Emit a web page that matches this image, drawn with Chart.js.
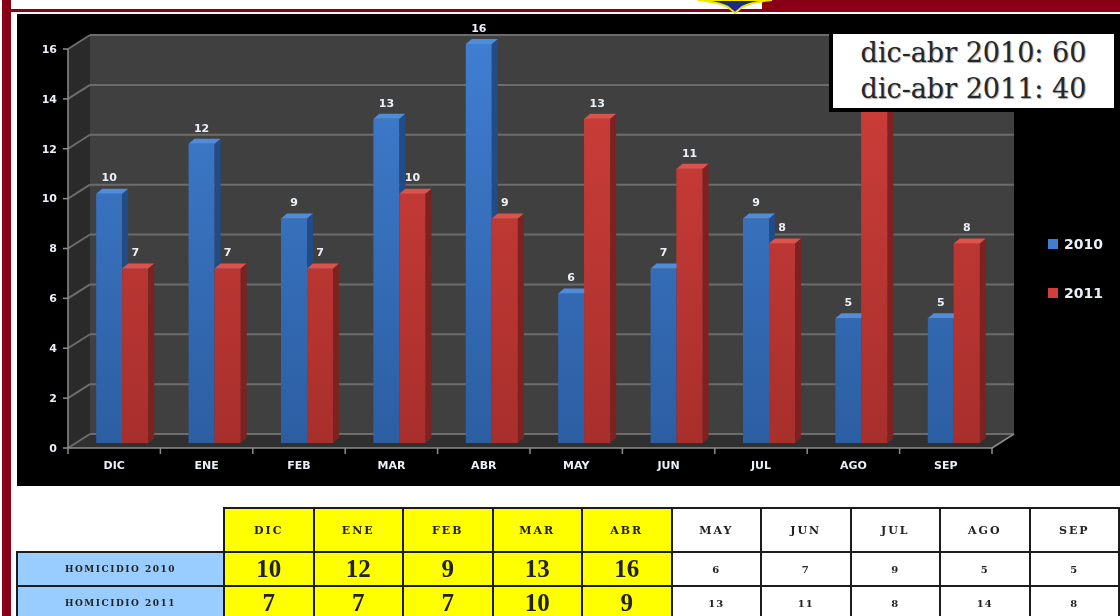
<!DOCTYPE html>
<html>
<head>
<meta charset="utf-8">
<script src="https://cdn.jsdelivr.net/npm/chart.js@4.4.0/dist/chart.umd.min.js"></script>
<style>
  html, body { margin: 0; padding: 0; background: #fff; width: 1120px; height: 616px; overflow: hidden; position: relative; }
  #frameLeft { position: absolute; left: 2px; top: 0; width: 9px; height: 616px; background: #8a0016; }
  #frameTop { position: absolute; left: 2px; top: 9px; width: 1118px; height: 3px; background: #8a0016; }
  #banner { position: absolute; left: 762px; top: 0; width: 358px; height: 12px; background: #8a0016; }
  #emblem { position: absolute; left: 692px; top: 0; }
  #panel { position: absolute; left: 17px; top: 14px; width: 1103px; height: 472px; background: #000; }
  #chart { position: absolute; left: 0; top: 0; }
  #note {
    position: absolute; left: 829px; top: 30px; width: 281px; height: 73px;
    background: #fff; border: 4px solid #000;
    font-family: "DejaVu Serif", serif; font-size: 27px; color: #262626;
    text-align: center; line-height: 36px; padding-top: 1px; box-sizing: content-box;
    text-shadow: 1px 1px 1px rgba(0,0,0,0.35);
  }
  #tbl { position: absolute; left: 16px; top: 507px; border-collapse: collapse; table-layout: fixed; }
  #tbl th, #tbl td { border: 2px solid #1c1c1c; padding: 0; text-align: center; color: #222; overflow: hidden; white-space: nowrap; }
  #tbl th { height: 42px; font: bold 11px "DejaVu Serif", serif; letter-spacing: 2px; }
  #tbl th.blank { border-top: none; border-left: none; background: #fff; }
  #tbl td { height: 32px; }
  #tbl td.rowlab { background: #99ccff; font: bold 9px "DejaVu Serif", serif; letter-spacing: 1.5px; }
  #tbl .hl { background: #ffff00; }
  #tbl td.hl { font: bold 25px "Liberation Serif", serif; }
  #tbl td.plain { background: #fff; font: bold 10px "DejaVu Serif", serif; letter-spacing: 1px; }
</style>
</head>
<body>
<div id="frameLeft"></div>
<div id="frameTop"></div>
<div id="banner"></div>
<svg id="emblem" width="90" height="16" viewBox="0 0 90 16">
  <path d="M6,0 Q26,2 36,7 L43,13 L50,7 Q60,2 80,0 Z" fill="#1a2b8c" stroke="#f2e400" stroke-width="2"/>
</svg>
<div id="panel"></div>
<canvas id="chart" width="1120" height="616"></canvas>
<div id="note"></div>
<table id="tbl"></table>

<script>
// data
const months = ['DIC', 'ENE', 'FEB', 'MAR', 'ABR', 'MAY', 'JUN', 'JUL', 'AGO', 'SEP'];
const homicidios2010 = [10, 12, 9, 13, 16, 6, 7, 9, 5, 5];
const homicidios2011 = [7, 7, 7, 10, 9, 13, 11, 8, 14, 8];
const seriesLabels = ['2010', '2011'];
const rowLabels = ['HOMICIDIO 2010', 'HOMICIDIO 2011'];
const yTicks = [0, 2, 4, 6, 8, 10, 12, 14, 16];
const periodMonths = 5; // dic-abr, highlighted in the table

// 3D look: offsets from the bar plane to the front edge / back wall
const FRONT = { dx: -8, dy: 5 };
const BACK = { dx: 14, dy: -9 };
const DEPTH = { dx: 6, dy: -5 };

const palette = {
    blueTop: '#3f7ed0', blueBottom: '#2c5ea2', blueSide: '#234c86', blueCap: '#4f8ddb',
    redTop: '#d03f3a', redBottom: '#a82f2c', redSide: '#7c2220', redCap: '#dc524c',
    wall: '#404040', sideWall: '#2a2a2a', floor: '#303030',
    grid: '#6c6c6c', axis: '#8c8c8c', text: '#eaeff8'
};
const sideColors = [palette.blueSide, palette.redSide];
const capColors = [palette.blueCap, palette.redCap];

// note box, totals for dic-abr
const sum = arr => arr.slice(0, periodMonths).reduce((a, b) => a + b, 0);
document.getElementById('note').innerHTML =
    'dic-abr 2010: ' + sum(homicidios2010) + '<br>dic-abr 2011: ' + sum(homicidios2011);

// table under the chart
(function buildTable() {
    const tbl = document.getElementById('tbl');
    let html = '<colgroup><col style="width:207px">';
    months.forEach(() => { html += '<col style="width:89.5px">'; });
    html += '</colgroup><tr><th class="blank"></th>';
    months.forEach((m, i) => {
        html += '<th class="' + (i < periodMonths ? 'hl' : '') + '">' + m + '</th>';
    });
    html += '</tr>';
    [homicidios2010, homicidios2011].forEach((row, r) => {
        html += '<tr><td class="rowlab">' + rowLabels[r] + '</td>';
        row.forEach((v, i) => {
            html += '<td class="' + (i < periodMonths ? 'hl' : 'plain') + '">' + v + '</td>';
        });
        html += '</tr>';
    });
    tbl.innerHTML = html;
})();

function gradient(chart, top, bottom) {
    const a = chart.chartArea;
    if (!a) return top;
    const g = chart.ctx.createLinearGradient(0, a.top, 0, a.bottom);
    g.addColorStop(0, top);
    g.addColorStop(1, bottom);
    return g;
}

function poly(ctx, pts, fill) {
    ctx.beginPath();
    ctx.moveTo(pts[0][0], pts[0][1]);
    for (let i = 1; i < pts.length; i++) ctx.lineTo(pts[i][0], pts[i][1]);
    ctx.closePath();
    ctx.fillStyle = fill;
    ctx.fill();
}

function line(ctx, x1, y1, x2, y2) {
    ctx.beginPath();
    ctx.moveTo(x1, y1);
    ctx.lineTo(x2, y2);
    ctx.stroke();
}

function drawDepth(ctx, bar, d) {
    const { x, y, base, width } = bar.getProps(['x', 'y', 'base', 'width'], true);
    const l = x - width / 2, r = x + width / 2;
    poly(ctx, [[r, y], [r + DEPTH.dx, y + DEPTH.dy], [r + DEPTH.dx, base + DEPTH.dy], [r, base]], sideColors[d]);
    poly(ctx, [[l, y], [r, y], [r + DEPTH.dx, y + DEPTH.dy], [l + DEPTH.dx, y + DEPTH.dy]], capColors[d]);
}

const scene3d = {
    id: 'scene3d',
    beforeDatasetsDraw(chart) {
        const { ctx, chartArea: a, scales: { x, y } } = chart;
        const fL = a.left + FRONT.dx, fR = a.right + FRONT.dx;
        const bL = a.left + BACK.dx, bR = a.right + BACK.dx;
        const y0 = y.getPixelForValue(0);
        const yMax = y.getPixelForValue(yTicks[yTicks.length - 1]);
        ctx.save();
        // walls and floor
        ctx.fillStyle = palette.wall;
        ctx.fillRect(bL, yMax + BACK.dy, bR - bL, y0 - yMax);
        poly(ctx, [[fL, y0 + FRONT.dy], [fL, yMax + FRONT.dy], [bL, yMax + BACK.dy], [bL, y0 + BACK.dy]], palette.sideWall);
        poly(ctx, [[fL, y0 + FRONT.dy], [fR, y0 + FRONT.dy], [bR, y0 + BACK.dy], [bL, y0 + BACK.dy]], palette.floor);

        // gridlines + y ticks
        ctx.lineWidth = 2;
        ctx.font = 'bold 11px "DejaVu Sans", sans-serif';
        ctx.textAlign = 'right';
        ctx.textBaseline = 'middle';
        yTicks.forEach(v => {
            const p = y.getPixelForValue(v);
            ctx.strokeStyle = palette.grid;
            line(ctx, fL, p + FRONT.dy, bL, p + BACK.dy);
            line(ctx, bL, p + BACK.dy, bR, p + BACK.dy);
            ctx.strokeStyle = palette.axis;
            ctx.lineWidth = 1.5;
            line(ctx, fL - 5, p + FRONT.dy, fL, p + FRONT.dy);
            ctx.lineWidth = 2;
            ctx.fillStyle = palette.text;
            ctx.fillText(String(v), fL - 11, p + FRONT.dy + 1);
        });

        // front axes
        ctx.strokeStyle = palette.axis;
        ctx.lineWidth = 1.5;
        line(ctx, fL, yMax + FRONT.dy, fL, y0 + FRONT.dy);
        line(ctx, fL, y0 + FRONT.dy, fR, y0 + FRONT.dy);
        line(ctx, fR, y0 + FRONT.dy, bR, y0 + BACK.dy);
        const step = (a.right - a.left) / months.length;
        for (let i = 0; i <= months.length; i++) {
            const tx = fL + step * i;
            line(ctx, tx, y0 + FRONT.dy, tx, y0 + FRONT.dy + 6);
        }

        // category labels
        ctx.textAlign = 'center';
        ctx.fillStyle = palette.text;
        months.forEach((m, i) => {
            ctx.fillText(m, x.getPixelForValue(i) + FRONT.dx, y0 + FRONT.dy + 18);
        });
        ctx.restore();
    },
    afterDatasetsDraw(chart) {
        const ctx = chart.ctx;
        ctx.save();
        // blue depth faces, then repaint the red fronts over them, then red depth faces
        const blue = chart.getDatasetMeta(0).data;
        const red = chart.getDatasetMeta(1).data;
        blue.forEach(bar => drawDepth(ctx, bar, 0));
        red.forEach(bar => { bar.draw(ctx); drawDepth(ctx, bar, 1); });

        ctx.font = 'bold 11px "DejaVu Sans", sans-serif';
        ctx.textAlign = 'center';
        ctx.textBaseline = 'middle';
        ctx.fillStyle = palette.text;
        chart.data.datasets.forEach((ds, d) => {
            chart.getDatasetMeta(d).data.forEach((bar, k) => {
                ctx.fillText(String(ds.data[k]), bar.x, bar.y - 15);
            });
        });

        // legend on the right
        const legendY = [244, 293];
        ctx.font = 'bold 14px "DejaVu Sans", sans-serif';
        ctx.textAlign = 'left';
        chart.data.datasets.forEach((ds, d) => {
            ctx.fillStyle = d === 0 ? palette.blueTop : palette.redTop;
            ctx.fillRect(1048, legendY[d] - 5, 10, 10);
            ctx.fillStyle = palette.text;
            ctx.fillText(ds.label, 1064, legendY[d] + 1);
        });
        ctx.restore();
    }
};

new Chart(document.getElementById('chart').getContext('2d'), {
    type: 'bar',
    data: {
        labels: months,
        datasets: [{
            label: seriesLabels[0],
            data: homicidios2010,
            backgroundColor: c => gradient(c.chart, palette.blueTop, palette.blueBottom),
            borderWidth: 0
        }, {
            label: seriesLabels[1],
            data: homicidios2011,
            backgroundColor: c => gradient(c.chart, palette.redTop, palette.redBottom),
            borderWidth: 0
        }]
    },
    options: {
        responsive: false,
        devicePixelRatio: 1,
        animation: false,
        layout: {
            padding: { left: 76, right: 120, top: 44, bottom: 173 }
        },
        datasets: {
            bar: { categoryPercentage: 0.563, barPercentage: 1.0 }
        },
        plugins: {
            legend: { display: false },
            tooltip: { enabled: false }
        },
        scales: {
            x: { display: false },
            y: { display: false, min: 0, max: 16 }
        }
    },
    plugins: [scene3d]
});
</script>
</body>
</html>
